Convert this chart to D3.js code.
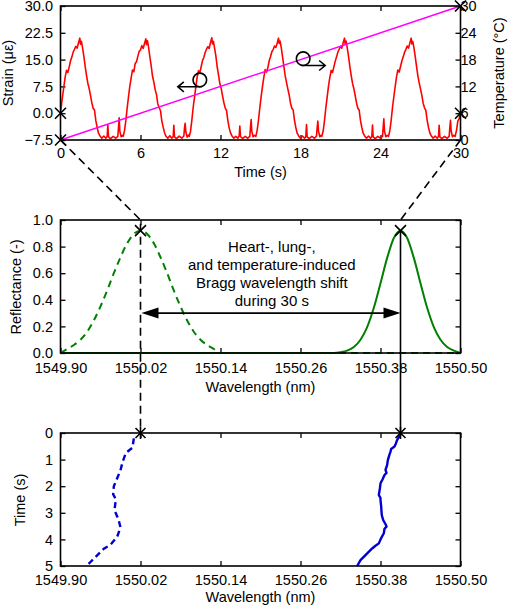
<!DOCTYPE html>
<html><head><meta charset="utf-8">
<script src="https://cdn.jsdelivr.net/npm/d3@7"></script>
<style>
body{margin:0;background:#fff}
text{font-family:"Liberation Sans",Arial,Helvetica,sans-serif;fill:#000}
</style>
</head><body>
<svg id="c" width="510" height="605"></svg>
<script>
// ---------- tick labels ----------
const timeTicks = [0, 6, 12, 18, 24, 30];
const strainTicks = [-7.5, 0, 7.5, 15, 22.5, 30];
const tempTicks = [0, 6, 12, 18, 24, 30];
const wlTicks = [1549.90, 1550.02, 1550.14, 1550.26, 1550.38, 1550.50];
const reflTicks = [0, 0.2, 0.4, 0.6, 0.8, 1.0];
const shiftTimeTicks = [0, 1, 2, 3, 4, 5];

// ---------- top: strain (t [s], strain [µε]) ----------
const strainData = [
[0,0],[0.05,1.6],[0.15,4.6],[0.25,7.4],[0.35,10.1],[0.45,12],[0.55,11.4],[0.65,12.9],[0.75,14.6],[0.85,15.7],[0.95,17.1],[1.05,17.9],[1.15,18.7],[1.25,18.2],[1.35,19.7],[1.45,21],[1.5,19.3],[1.57,20.1],[1.65,18.4],[1.75,16],[1.85,13.1],[1.95,10.6],[2.05,8.4],[2.15,6.9],[2.25,5],[2.35,2.9],[2.45,1.4],[2.55,0.9],[2.65,-2.1],[2.75,-4],[2.85,-5.6],[2.95,-6.3],[3.1,-7],[3.25,-6.4],[3.4,-7],[3.5,-6.5],[3.55,-3.3],[3.6,-6.6],[3.75,-7.1],[3.95,-6.5],[4.15,-7],[4.3,-6.5],[4.35,-4],[4.4,-1.3],[4.45,-5],[4.55,-6.6],[4.65,-6.2],
[4.7,-6.5],[4.8,-4.9],[4.9,-2.1],[5.0,1.4],[5.1,4.6],[5.2,7.6],[5.3,9.9],[5.4,12.1],[5.5,11.6],[5.6,13.9],[5.7,14.4],[5.8,15.9],[5.9,17.3],[6.0,17.7],[6.1,18.9],[6.2,18.1],[6.3,19.5],[6.4,20.8],[6.45,19.2],[6.52,20.3],[6.6,18.6],[6.7,15.8],[6.8,13.3],[6.9,10.4],[7.0,8.7],[7.1,6.6],[7.2,5.2],[7.3,2.6],[7.4,1.6],[7.5,0.7],[7.6,-2.2],[7.7,-3.9],[7.8,-5.4],[7.9,-6.4],[8.05,-7],[8.2,-6.3],[8.35,-7],[8.45,-6.5],[8.5,-3.4],[8.55,-6.6],[8.7,-7.1],[8.9,-6.4],[9.1,-7],[9.25,-6.4],[9.3,-4.1],[9.35,-2.8],[9.4,-5.2],[9.5,-6.7],[9.6,-6.1],
[9.65,-6.5],[9.75,-5.1],[9.85,-2],[9.95,1.6],[10.05,4.4],[10.15,7.4],[10.25,10.1],[10.35,11.9],[10.45,11.3],[10.55,13],[10.65,14.7],[10.75,15.6],[10.85,17],[10.95,17.9],[11.05,18.6],[11.15,18.1],[11.25,19.8],[11.35,21.1],[11.4,19.4],[11.47,20.1],[11.55,18.3],[11.65,16.1],[11.75,13],[11.85,10.7],[11.95,8.3],[12.05,7],[12.15,4.9],[12.25,3],[12.35,1.5],[12.45,0.8],[12.55,-2],[12.65,-4.1],[12.75,-5.5],[12.85,-6.3],[13.0,-7],[13.15,-6.5],[13.3,-7],[13.4,-6.4],[13.45,-3.6],[13.5,-6.5],[13.65,-7.1],[13.85,-6.5],[14.05,-7],[14.2,-6.5],[14.25,-3.9],[14.3,-1.8],[14.35,-5.1],[14.45,-6.6],[14.55,-6.2],
[14.65,-6.5],[14.75,-4.8],[14.85,-1.9],[14.95,1.5],[15.05,4.7],[15.15,7.5],[15.25,10],[15.35,12.2],[15.45,11.5],[15.55,12.7],[15.65,14.6],[15.75,15.8],[15.85,17.2],[15.95,17.8],[16.05,18.8],[16.15,18.4],[16.25,19.6],[16.35,21],[16.4,19.5],[16.47,20.2],[16.55,18.5],[16.65,15.9],[16.75,13.2],[16.85,10.5],[16.95,8.6],[17.05,6.8],[17.15,5.1],[17.25,2.8],[17.35,1.4],[17.45,0.9],[17.55,-2],[17.65,-4],[17.75,-5.6],[17.85,-6.3],[18.0,-7],[18.15,-6.4],[18.3,-7],[18.4,-6.5],[18.45,-3.2],[18.5,-6.6],[18.65,-7.1],[18.85,-6.5],[19.05,-7],[19.2,-6.4],[19.25,-4],[19.3,-2.2],[19.35,-5],[19.45,-6.6],[19.55,-6.2],
[19.6,-6.5],[19.7,-5],[19.8,-2.1],[19.9,1.5],[20.0,4.5],[20.1,7.6],[20.2,10],[20.3,12],[20.4,11.4],[20.5,12.9],[20.6,14.5],[20.7,15.7],[20.8,17.1],[20.9,17.9],[21.0,18.7],[21.1,18.2],[21.2,19.7],[21.3,21],[21.35,19.3],[21.42,20.2],[21.5,18.4],[21.6,16],[21.7,13.1],[21.8,10.6],[21.9,8.4],[22.0,6.9],[22.1,5],[22.2,2.9],[22.3,1.4],[22.4,0.9],[22.5,-2.1],[22.6,-4],[22.7,-5.6],[22.8,-6.3],[22.95,-7],[23.1,-6.4],[23.25,-7],[23.35,-6.5],[23.4,-3.3],[23.45,-6.6],[23.6,-7.1],[23.8,-6.5],[24.0,-7],[24.15,-6.5],[24.2,-4],[24.25,-1.6],[24.3,-5],[24.4,-6.6],[24.5,-6.2],
[24.6,-6.5],[24.7,-4.9],[24.8,-2],[24.9,1.6],[25.0,4.6],[25.1,7.4],[25.2,10.1],[25.3,12.1],[25.4,11.5],[25.5,13],[25.6,14.6],[25.7,15.7],[25.8,17],[25.9,17.8],[26.0,18.8],[26.1,18.2],[26.2,19.6],[26.3,21],[26.35,19.4],[26.42,20.1],[26.5,18.5],[26.6,16],[26.7,13.2],[26.8,10.5],[26.9,8.5],[27.0,6.8],[27.1,5],[27.2,2.8],[27.3,1.5],[27.4,0.8],[27.5,-2],[27.6,-4],[27.7,-5.5],[27.8,-6.3],[27.95,-7],[28.1,-6.4],[28.25,-7],[28.35,-6.5],[28.4,-3.4],[28.45,-6.6],[28.6,-7.1],[28.8,-6.5],[29.0,-7],[29.15,-6.5],[29.2,-4],[29.25,-2],[29.3,-5],[29.4,-6.6],[29.5,-6.2],[29.6,-6.5],[29.7,-4.8],[29.8,-2.2],[29.9,-1.5],[30,0]
];
// temperature ramp (t [s], °C)
const tempTime = [0, 30];
const tempValue = [0, 30];

// ---------- middle: reflection spectra ----------
const spec1Wl = [1549.90,1549.91,1549.92,1549.93,1549.94,1549.95,1549.96,1549.97,1549.98,1549.99,1550.00,1550.01,1550.02,1550.03,1550.04,1550.05,1550.06,1550.07,1550.08,1550.09,1550.10,1550.11,1550.12,1550.13,1550.14,1550.50];
const spec1R  = [0,0.03,0.06,0.10,0.16,0.245,0.35,0.47,0.60,0.72,0.825,0.895,0.92,0.895,0.825,0.72,0.60,0.47,0.35,0.245,0.16,0.10,0.06,0.03,0,0];
const spec2Wl = [1549.90,1550.31,1550.32,1550.33,1550.34,1550.35,1550.36,1550.37,1550.38,1550.39,1550.40,1550.41,1550.42,1550.43,1550.44,1550.45,1550.46,1550.47,1550.48,1550.49,1550.50];
const spec2R  = [0,0,0.006,0.018,0.045,0.10,0.195,0.34,0.525,0.715,0.865,0.92,0.865,0.715,0.525,0.34,0.195,0.10,0.045,0.018,0];
const peakWl = [1550.02, 1550.41];
const peakR = 0.92;
const arrowR = 0.30;
const noteLines = ["Heart-, lung-,", "and temperature-induced", "Bragg wavelength shift", "during 30 s"];

// ---------- bottom: Bragg wavelength vs time ----------
const shift1 = [[0.2,1550.010],[0.55,1550.008],[0.75,1549.998],[1.1,1549.993],[1.4,1549.990],[1.7,1549.985],[2.0,1549.980],[2.3,1549.979],[2.5,1549.983],[2.9,1549.981],[3.25,1549.987],[3.55,1549.990],[3.9,1549.985],[4.2,1549.975],[4.35,1549.965],[4.6,1549.955],[4.85,1549.945],[5.0,1549.939]];
const shift2 = [[0,1550.411],[0.1,1550.409],[0.26,1550.405],[0.4,1550.403],[0.51,1550.401],[0.6,1550.396],[0.7,1550.395],[0.85,1550.393],[1.02,1550.391],[1.2,1550.390],[1.39,1550.3875],[1.5,1550.389],[1.58,1550.386],[1.75,1550.383],[1.89,1550.380],[2.1,1550.379],[2.33,1550.3775],[2.45,1550.380],[2.52,1550.380],[2.75,1550.381],[2.96,1550.3815],[3.1,1550.382],[3.27,1550.384],[3.45,1550.388],[3.52,1550.389],[3.6,1550.386],[3.77,1550.385],[3.95,1550.381],[4.15,1550.3775],[4.25,1550.372],[4.34,1550.3675],[4.45,1550.363],[4.59,1550.3575],[4.78,1550.350],[5.0,1550.345]];

// ================= drawing =================
const svg = d3.select("#c");
const L = 60.5, R = 460.5;
const FS = 14.5;

const xT = d3.scaleLinear().domain([0, 30]).range([L, R]);
const yS = d3.scaleLinear().domain([-7.5, 30]).range([140, 6]);
const yC = d3.scaleLinear().domain([0, 30]).range([140, 6]);
const xW = d3.scaleLinear().domain([1549.90, 1550.50]).range([L, R]);
const yR = d3.scaleLinear().domain([0, 1]).range([353, 220]);
const yTm = d3.scaleLinear().domain([0, 5]).range([433, 566]);

function axis(gen, tx, ty, labels, pad, anchor, dx) {
  const g = svg.append("g").attr("transform", `translate(${tx},${ty})`).call(gen);
  g.select(".domain").remove();
  g.selectAll(".tick line").attr("stroke", "#000").attr("stroke-width", 1.3);
  g.selectAll(".tick text").style("font-size", FS + "px").attr("fill", "#000");
  if (anchor) g.selectAll(".tick text").attr("text-anchor", anchor).attr("x", dx);
  if (!labels) g.selectAll(".tick text").remove();
  return g;
}

function frame(x0, y0, x1, y1) {
  svg.append("rect").attr("x", x0).attr("y", y0).attr("width", x1 - x0).attr("height", y1 - y0)
    .attr("fill", "none").attr("stroke", "#000").attr("stroke-width", 1.6);
}

function xMark(x, y, s) {
  svg.append("path").attr("d", `M${x-s},${y-s}L${x+s},${y+s}M${x-s},${y+s}L${x+s},${y-s}`)
    .attr("stroke", "#000").attr("stroke-width", 1.6).attr("fill", "none");
}

function title(txt, x, y, rot) {
  const t = svg.append("text").attr("x", x).attr("y", y).attr("text-anchor", "middle")
    .attr("dominant-baseline", "central").style("font-size", FS + "px").text(txt);
  if (rot) t.attr("transform", `rotate(-90,${x},${y})`);
  return t;
}

// ---------- TOP PANEL ----------
axis(d3.axisBottom(xT).tickValues(timeTicks).tickFormat(d3.format("d")).tickSizeInner(-5).tickSizeOuter(0).tickPadding(8), 0, 140, true);
axis(d3.axisTop(xT).tickValues(timeTicks).tickSizeInner(-5).tickSizeOuter(0), 0, 6, false);
axis(d3.axisLeft(yS).tickValues(strainTicks).tickFormat(d3.format(".1f")).tickSizeInner(-5).tickSizeOuter(0).tickPadding(7.5), L, 0, true);
axis(d3.axisRight(yC).tickValues(tempTicks).tickFormat(d3.format("d")).tickSizeInner(-5).tickSizeOuter(0), R, 0, true, "end", 16.5);

svg.append("path").datum(strainData)
  .attr("d", d3.line().x(d => xT(d[0])).y(d => yS(d[1])))
  .attr("fill", "none").attr("stroke", "#ff0000").attr("stroke-width", 1.6).attr("stroke-linejoin", "round");
svg.append("path").datum(d3.zip(tempTime, tempValue))
  .attr("d", d3.line().x(d => xT(d[0])).y(d => yC(d[1])))
  .attr("fill", "none").attr("stroke", "#ff00ff").attr("stroke-width", 1.5);
frame(L, 6, R, 140);

xMark(xT(0), yS(-7.5), 5.5);
xMark(xT(0), yS(0), 5.5);
xMark(xT(30), yC(30), 5.5);
xMark(xT(30), yC(6), 5.5);

// circle + arrow annotations
function circArrow(cx, cy, dir) {
  const r = 6.8;
  svg.append("circle").attr("cx", cx).attr("cy", cy).attr("r", r)
    .attr("fill", "none").attr("stroke", "#000").attr("stroke-width", 1.6);
  const y = cy + r;
  const x0 = cx - dir * 2, x1 = cx + dir * 22;
  svg.append("path").attr("d", `M${x0},${y}L${x1},${y}M${x1 - dir*6},${y-5}L${x1},${y}L${x1 - dir*6},${y+5}`)
    .attr("fill", "none").attr("stroke", "#000").attr("stroke-width", 1.6);
}
circArrow(xT(10.45), yS(9.3), -1);
circArrow(xT(18.2), yC(18.2), 1);

title("Time (s)", (L + R) / 2, 172);
title("Strain (\u03bc\u03b5)", 8, 73, true);
title("Temperature (\u00b0C)", 499, 73, true);

// ---------- MIDDLE PANEL ----------
axis(d3.axisBottom(xW).tickValues(wlTicks).tickFormat(d3.format(".2f")).tickSizeInner(-5).tickSizeOuter(0).tickPadding(9.5), 0, 353, true);
axis(d3.axisTop(xW).tickValues(wlTicks).tickSizeInner(-5).tickSizeOuter(0), 0, 220, false);
axis(d3.axisLeft(yR).tickValues(reflTicks).tickFormat(d3.format(".1f")).tickSizeInner(-5).tickSizeOuter(0).tickPadding(7.5), L, 0, true);
axis(d3.axisRight(yR).tickValues(reflTicks).tickSizeInner(-5).tickSizeOuter(0), R, 0, false);

const specLine = d3.line().x(d => xW(d[0])).y(d => yR(d[1])).curve(d3.curveMonotoneX);
svg.append("path").datum(d3.zip(spec2Wl, spec2R)).attr("d", specLine)
  .attr("fill", "none").attr("stroke", "#008000").attr("stroke-width", 2);
svg.append("path").datum(d3.zip(spec1Wl, spec1R)).attr("d", specLine)
  .attr("fill", "none").attr("stroke", "#008000").attr("stroke-width", 2).attr("stroke-dasharray", "7,5");

// connectors (top → middle → bottom)
svg.append("path").attr("d", `M${xT(0)},${yS(-7.5)}L${xW(peakWl[0])},${yR(1)}L${xW(peakWl[0])},${yTm(0)}`)
  .attr("fill", "none").attr("stroke", "#000").attr("stroke-width", 1.6).attr("stroke-dasharray", "8,5");
svg.append("path").attr("d", `M${xT(30)},${yS(-7.5)}L${xW(peakWl[1])},${yR(1)}`)
  .attr("fill", "none").attr("stroke", "#000").attr("stroke-width", 1.6).attr("stroke-dasharray", "8,5");
svg.append("path").attr("d", `M${xW(peakWl[1])},${yR(peakR)}L${xW(peakWl[1])},${yTm(0)}`)
  .attr("fill", "none").attr("stroke", "#000").attr("stroke-width", 1.6);

frame(L, 220, R, 353);
xMark(xW(peakWl[0]), yR(peakR), 5.5);
xMark(xW(peakWl[1]), yR(peakR), 5.5);

// double arrow
{
  const ya = yR(arrowR), xa = xW(peakWl[0]) + 1, xb = xW(peakWl[1]);
  svg.append("line").attr("x1", xa + 10).attr("x2", xb - 10).attr("y1", ya).attr("y2", ya)
    .attr("stroke", "#000").attr("stroke-width", 1.6);
  svg.append("path").attr("d", `M${xa},${ya}L${xa+17},${ya-5.5}L${xa+17},${ya+5.5}Z`).attr("fill", "#000");
  svg.append("path").attr("d", `M${xb},${ya}L${xb-17},${ya-5.5}L${xb-17},${ya+5.5}Z`).attr("fill", "#000");
}
noteLines.forEach((s, i) => {
  svg.append("text").attr("x", xW(1550.217)).attr("y", yR(0.8) + i * 17.8)
    .attr("text-anchor", "middle").attr("dominant-baseline", "central")
    .style("font-size", "15px").text(s);
});

title("Wavelength (nm)", (L + R) / 2, 387);
title("Reflectance (-)", 16, 287, true);

// ---------- BOTTOM PANEL ----------
axis(d3.axisBottom(xW).tickValues(wlTicks).tickFormat(d3.format(".2f")).tickSizeInner(-5).tickSizeOuter(0).tickPadding(9), 0, 566, true);
axis(d3.axisTop(xW).tickValues(wlTicks).tickSizeInner(-5).tickSizeOuter(0), 0, 433, false);
axis(d3.axisLeft(yTm).tickValues(shiftTimeTicks).tickFormat(d3.format("d")).tickSizeInner(-5).tickSizeOuter(0).tickPadding(7.5), L, 0, true);
axis(d3.axisRight(yTm).tickValues(shiftTimeTicks).tickSizeInner(-5).tickSizeOuter(0), R, 0, false);

const shiftLine = d3.line().x(d => xW(d[1])).y(d => yTm(d[0]));
svg.append("path").datum(shift1).attr("d", shiftLine)
  .attr("fill", "none").attr("stroke", "#0000d0").attr("stroke-width", 2.4).attr("stroke-dasharray", "6,4");
svg.append("path").datum(shift2).attr("d", shiftLine)
  .attr("fill", "none").attr("stroke", "#0000d0").attr("stroke-width", 2.4).attr("stroke-linejoin", "round");

frame(L, 433, R, 566);
peakWl.forEach(w => {
  xMark(xW(w), yTm(0), 5);
  svg.append("line").attr("x1", xW(w)).attr("x2", xW(w)).attr("y1", yTm(0) - 6).attr("y2", yTm(0) + 6)
    .attr("stroke", "#000").attr("stroke-width", 1.6);
});

title("Wavelength (nm)", (L + R) / 2, 597);
title("Time (s)", 20, 500, true);
</script>
</body></html>
